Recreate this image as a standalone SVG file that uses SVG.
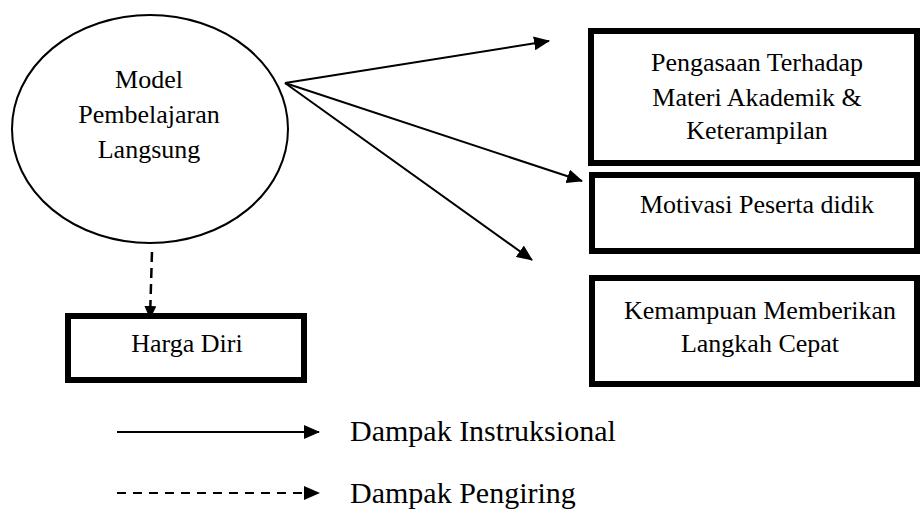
<svg xmlns="http://www.w3.org/2000/svg" width="920" height="511" viewBox="0 0 920 511">
<style>
.t{font-family:"Liberation Serif","Times New Roman",serif;font-size:26px;fill:#000;text-anchor:middle}
.lg{font-family:"Liberation Serif","Times New Roman",serif;font-size:30px;fill:#000}
.box{fill:#fff;stroke:#000;stroke-width:6}
.ln{stroke:#000;stroke-width:2;fill:none}
.dash{stroke:#000;stroke-width:2.5;fill:none;stroke-dasharray:10 6}
</style>
<defs>
<marker id="ah" markerUnits="userSpaceOnUse" markerWidth="16" markerHeight="14" viewBox="0 0 16 14" refX="15" refY="7" orient="auto">
<path d="M0,0 L16,7 L0,14 Z" fill="#000"/>
</marker>
<marker id="ahs" markerUnits="userSpaceOnUse" markerWidth="13" markerHeight="12" viewBox="0 0 13 12" refX="12" refY="6" orient="auto">
<path d="M0,0 L13,6 L0,12 Z" fill="#000"/>
</marker>
</defs>
<rect width="920" height="511" fill="#fff"/>
<g id="model">
<ellipse cx="150" cy="129" rx="138" ry="114" fill="#fff" stroke="#000" stroke-width="2"/>
<text class="t" x="149" y="88">Model</text>
<text class="t" x="149" y="123">Pembelajaran</text>
<text class="t" x="149" y="158">Langsung</text>
</g>
<g id="penguasaan">
<rect class="box" x="591" y="31" width="326" height="132"/>
<text class="t" x="757" y="71">Pengasaan Terhadap</text>
<text class="t" x="757" y="106">Materi Akademik &amp;</text>
<text class="t" x="757" y="139">Keterampilan</text>
</g>
<g id="motivasi">
<rect class="box" x="592" y="175" width="325" height="76"/>
<text class="t" x="757" y="213">Motivasi Peserta didik</text>
</g>
<g id="kemampuan">
<rect class="box" x="592" y="278" width="325" height="106"/>
<text class="t" x="760" y="319">Kemampuan Memberikan</text>
<text class="t" x="760" y="352">Langkah Cepat</text>
</g>
<g id="harga-diri">
<rect class="box" x="68" y="316" width="236" height="64"/>
<text class="t" x="187" y="352">Harga Diri</text>
</g>
<g id="connectors">
<line class="ln" x1="285" y1="83" x2="549" y2="41" marker-end="url(#ah)"/>
<line class="ln" x1="285" y1="83" x2="582" y2="181" marker-end="url(#ah)"/>
<line class="ln" x1="285" y1="83" x2="532" y2="260" marker-end="url(#ah)"/>
<line class="dash" x1="152" y1="252" x2="150" y2="318" marker-end="url(#ahs)"/>
</g>
<g id="legend">
<line class="ln" x1="117" y1="432" x2="319" y2="432" marker-end="url(#ah)"/>
<text class="lg" x="350" y="441">Dampak Instruksional</text>
<line class="ln" x1="117" y1="493" x2="319" y2="493" stroke-dasharray="9 7" stroke-width="2.5" marker-end="url(#ah)"/>
<text class="lg" x="350" y="503">Dampak Pengiring</text>
</g>
</svg>
